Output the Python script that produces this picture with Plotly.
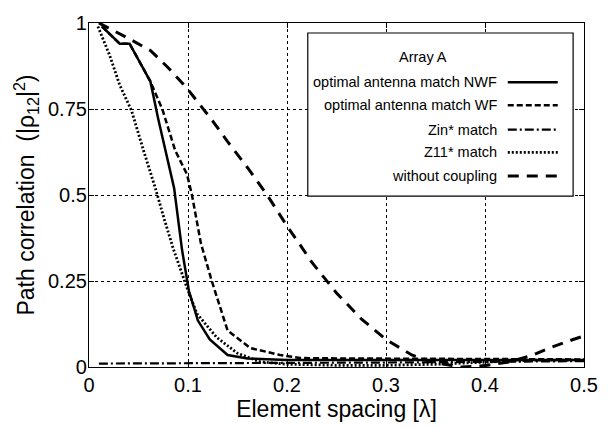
import plotly.graph_objects as go

# ---- data ----
nwf_x = [0.013, 0.031, 0.041, 0.062, 0.070, 0.079, 0.086, 0.094, 0.101, 0.110, 0.122, 0.140, 0.160, 0.200, 0.250, 0.300, 0.350, 0.400, 0.450, 0.500]
nwf_y = [0.99, 0.94, 0.94, 0.83, 0.72, 0.61, 0.52, 0.34, 0.22, 0.135, 0.08, 0.035, 0.025, 0.02, 0.02, 0.02, 0.02, 0.02, 0.02, 0.02]

wf_x = [0.013, 0.031, 0.041, 0.062, 0.074, 0.087, 0.099, 0.104, 0.113, 0.124, 0.140, 0.163, 0.193, 0.213, 0.250, 0.300, 0.350, 0.400, 0.450, 0.500]
wf_y = [0.99, 0.94, 0.94, 0.83, 0.75, 0.63, 0.56, 0.50, 0.36, 0.25, 0.106, 0.055, 0.035, 0.026, 0.025, 0.024, 0.023, 0.022, 0.022, 0.022]

zin_x = [0.010, 0.100, 0.200, 0.300, 0.400, 0.500]
zin_y = [0.010, 0.010, 0.012, 0.013, 0.015, 0.017]

z11_x = [0.009, 0.021, 0.031, 0.043, 0.055, 0.067, 0.076, 0.085, 0.099, 0.109, 0.129, 0.150, 0.173, 0.200, 0.250, 0.300, 0.350, 0.400, 0.450, 0.500]
z11_y = [0.99, 0.905, 0.82, 0.745, 0.63, 0.52, 0.43, 0.345, 0.23, 0.155, 0.086, 0.04, 0.015, 0.008, 0.005, 0.005, 0.008, 0.015, 0.02, 0.02]

wc_x = [0.010, 0.024, 0.040, 0.062, 0.080, 0.099, 0.125, 0.140, 0.160, 0.180, 0.200, 0.213, 0.225, 0.250, 0.275, 0.300, 0.326, 0.350, 0.376, 0.400, 0.425, 0.448, 0.464, 0.489, 0.500]
wc_y = [1.00, 0.98, 0.955, 0.92, 0.87, 0.81, 0.715, 0.655, 0.58, 0.50, 0.41, 0.356, 0.305, 0.215, 0.14, 0.08, 0.035, 0.012, 0.0, 0.004, 0.015, 0.034, 0.054, 0.08, 0.09]

x_ticks = [0, 0.1, 0.2, 0.3, 0.4, 0.5]
x_tick_labels = ["0", "0.1", "0.2", "0.3", "0.4", "0.5"]
y_ticks = [0, 0.25, 0.5, 0.75, 1]
y_tick_labels = ["0", "0.25", "0.5", "0.75", "1"]

legend_title = "Array A"
series_names = ["optimal antenna match NWF", "optimal antenna match WF", "Zin* match", "Z11* match", "without coupling"]

# ---- styles ----
dashes = ["solid", "6px,3px", "9px,3px,2px,3px", "2px,2px", "11px,8px"]
widths = [2.5, 2.5, 2.2, 2.8, 3.0]

series = [(nwf_x, nwf_y), (wf_x, wf_y), (zin_x, zin_y), (z11_x, z11_y), (wc_x, wc_y)]

fig = go.Figure()
for (xs, ys), name, d, w in zip(series, series_names, dashes, widths):
    fig.add_trace(go.Scatter(x=xs, y=ys, mode="lines", name=name,
                             line=dict(color="black", width=w, dash=d),
                             showlegend=False))

FONT = "Liberation Sans, Arial, Helvetica, sans-serif"

fig.update_layout(
    width=612, height=428,
    margin=dict(l=89, r=28, t=19, b=61),
    paper_bgcolor="white", plot_bgcolor="white",
    font=dict(family=FONT, color="black", size=20),
    showlegend=False,
)
fig.update_xaxes(
    range=[0, 0.5], tickvals=x_ticks, ticktext=x_tick_labels,
    showline=True, linecolor="black", linewidth=1.2, mirror="ticks",
    ticks="inside", ticklen=5, tickcolor="black",
    showgrid=True, gridcolor="black", gridwidth=0.8, griddash="dot",
    zeroline=False, tickfont=dict(size=20),
    title=dict(text="Element spacing [λ]", font=dict(size=23), standoff=4),
)
fig.update_yaxes(
    range=[0, 1], tickvals=y_ticks, ticktext=y_tick_labels,
    showline=True, linecolor="black", linewidth=1.2, mirror="ticks",
    ticks="inside", ticklen=5, tickcolor="black",
    showgrid=True, gridcolor="black", gridwidth=0.8, griddash="dot",
    zeroline=False, tickfont=dict(size=20), ticklabelstandoff=-3,
    title=dict(text="Path correlation  (|ρ<sub>12</sub>|<sup>2</sup>)", font=dict(size=23), standoff=6),
)

# ---- hand-made legend (text right-aligned, sample line on the right) ----
lx0, lx1, ly0, ly1 = 0.442, 0.978, 0.497, 0.971
fig.add_shape(type="rect", xref="paper", yref="paper", x0=lx0, x1=lx1, y0=ly0, y1=ly1,
              line=dict(color="black", width=1.2), fillcolor="white", layer="above")
fig.add_annotation(xref="paper", yref="paper", x=0.675, y=0.902, text=legend_title,
                   showarrow=False, font=dict(size=14.5), xanchor="center", yanchor="middle")
entry_y = [0.828, 0.761, 0.690, 0.624, 0.555]
for name, yy, d, w in zip(series_names, entry_y, dashes, widths):
    fig.add_annotation(xref="paper", yref="paper", x=0.828, y=yy, text=name,
                       showarrow=False, font=dict(size=14.5), xanchor="right", yanchor="middle")
    fig.add_shape(type="line", xref="paper", yref="paper", x0=0.846, x1=0.947, y0=yy, y1=yy,
                  line=dict(color="black", width=w, dash=d), layer="above")

fig.write_html("out.html", config={"displayModeBar": False},
               post_script="document.body.style.margin='0';document.body.style.overflow='hidden';")
